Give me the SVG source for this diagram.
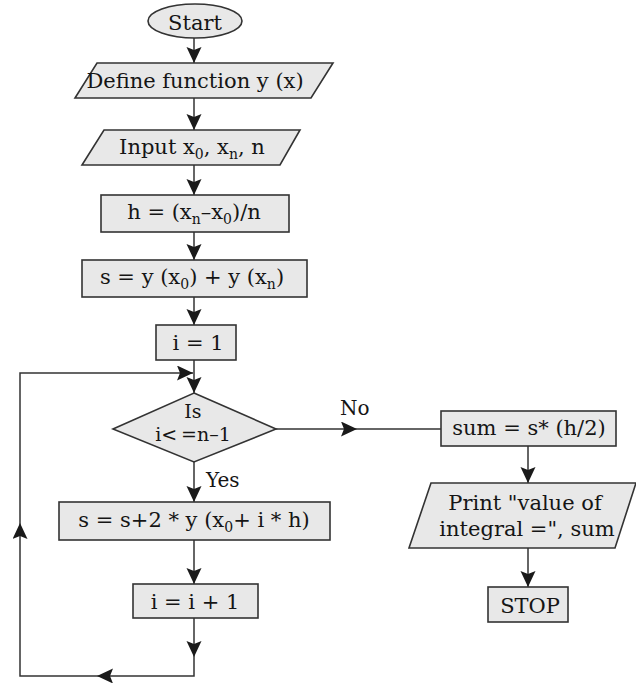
<svg xmlns="http://www.w3.org/2000/svg" width="636" height="683" viewBox="0 0 636 683">
  <style>
    .box { fill: #e8e8e8; stroke: #333; stroke-width: 1.6; }
    .t { font-family: "DejaVu Serif", "Liberation Serif", serif; font-size: 21px; fill: #151515; text-anchor: middle; }
    .dt { font-size: 19px; }
    .lbl { font-family: "DejaVu Serif", "Liberation Serif", serif; font-size: 20px; fill: #151515; }
    .sb { font-size: 14px; }
    .wire { fill: none; stroke: #333; stroke-width: 1.5; }
    .arr { marker-end: url(#head); }
  </style>
  <defs>
    <marker id="head" markerUnits="userSpaceOnUse" markerWidth="18" markerHeight="16" refX="16" refY="7.5" orient="auto">
      <path d="M0,0 L16,7.5 L0,15 L3,7.5 z" fill="#1a1a1a"/>
    </marker>
  </defs>

  <!-- connectors -->
  <g id="connectors">
    <path class="wire arr" d="M194,38 V63"/>
    <path class="wire arr" d="M194,98 V130"/>
    <path class="wire arr" d="M194,165 V195"/>
    <path class="wire arr" d="M194,232 V260"/>
    <path class="wire arr" d="M194,297 V325"/>
    <path class="wire arr" d="M194,360 V393"/>
    <!-- No branch -->
    <path class="wire arr" d="M276,429 H357"/>
    <path class="wire" d="M357,429 H441"/>
    <!-- Yes branch -->
    <path class="wire arr" d="M194,462 V502"/>
    <path class="wire arr" d="M194,540 V584"/>
    <!-- loop back -->
    <path class="wire arr" d="M194,618 V657"/>
    <path class="wire arr" d="M194,657 V676 H97"/>
    <path class="wire arr" d="M97,676 H20 V523"/>
    <path class="wire arr" d="M20,523 V373 H193"/>
    <!-- right column -->
    <path class="wire arr" d="M528,446 V483"/>
    <path class="wire arr" d="M528,548 V587"/>
  </g>

  <g id="start">
    <ellipse class="box" cx="195" cy="21" rx="47" ry="17"/>
    <text class="t" x="195" y="30">Start</text>
  </g>

  <g id="define">
    <polygon class="box" points="97,63 333,63 311,98 75,98"/>
    <text class="t" x="195" y="88">Define function y (x)</text>
  </g>

  <g id="input">
    <polygon class="box" points="104,130 300,130 280,165 82,165"/>
    <text class="t" x="192" y="154">Input x<tspan class="sb" dy="5">0</tspan><tspan dy="-5">, x</tspan><tspan class="sb" dy="5">n</tspan><tspan dy="-5">, n</tspan></text>
  </g>

  <g id="step-h">
    <rect class="box" x="101" y="195" width="188" height="37"/>
    <text class="t" x="194" y="219">h = (x<tspan class="sb" dy="5">n</tspan><tspan dy="-5">–x</tspan><tspan class="sb" dy="5">0</tspan><tspan dy="-5">)/n</tspan></text>
  </g>

  <g id="init-s">
    <rect class="box" x="82" y="260" width="225" height="37"/>
    <text class="t" x="192" y="284">s = y (x<tspan class="sb" dy="5">0</tspan><tspan dy="-5">) + y (x</tspan><tspan class="sb" dy="5">n</tspan><tspan dy="-5">)</tspan></text>
  </g>

  <g id="init-i">
    <rect class="box" x="156" y="325" width="80" height="35"/>
    <text class="t" x="198" y="350">i = 1</text>
  </g>

  <g id="test">
    <polygon class="box" points="194,393 276,429 194,462 113,429"/>
    <text class="t dt" x="193" y="418">Is</text>
    <text class="t dt" x="193" y="441">i&lt;&#8201;=n–1</text>
  </g>

  <text class="lbl" x="340" y="415">No</text>
  <text class="lbl" x="206" y="487">Yes</text>

  <g id="accumulate">
    <rect class="box" x="59" y="502" width="271" height="38"/>
    <text class="t" x="194" y="527">s = s+2 * y (x<tspan class="sb" dy="5">0</tspan><tspan dy="-5">+ i * h)</tspan></text>
  </g>

  <g id="increment">
    <rect class="box" x="133" y="584" width="125" height="34"/>
    <text class="t" x="195" y="609">i = i + 1</text>
  </g>

  <g id="sum">
    <rect class="box" x="441" y="411" width="175" height="35"/>
    <text class="t" x="529" y="435">sum = s* (h/2)</text>
  </g>

  <g id="print">
    <polygon class="box" points="431,483 636,483 615,548 409,548"/>
    <text class="t" x="525" y="510">Print "value of</text>
    <text class="t" x="527" y="536">integral =", sum</text>
  </g>

  <g id="stop">
    <rect class="box" x="488" y="587" width="80" height="35"/>
    <text class="t" x="530" y="613">STOP</text>
  </g>
</svg>
